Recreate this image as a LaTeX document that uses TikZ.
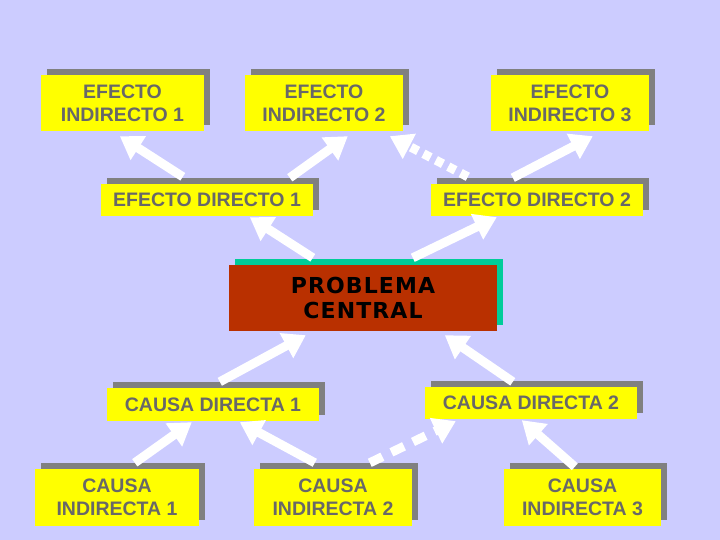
\documentclass[tikz,border=0pt]{standalone}
\usepackage{fontspec}
\setmainfont{Liberation Sans}
\newfontfamily\probfont[LetterSpace=5]{DejaVu Sans}
\usetikzlibrary{arrows.meta,shadows}
\definecolor{fondo}{RGB}{204,204,255}
\definecolor{amarillo}{RGB}{255,255,0}
\definecolor{grisletra}{RGB}{104,104,104}
\definecolor{grissombra}{RGB}{128,128,128}
\definecolor{rojizo}{RGB}{185,48,0}
\definecolor{turquesa}{RGB}{0,204,153}
\begin{document}
\begin{tikzpicture}[x=1pt, y=-1pt,
      caja/.style = {shape=rectangle, fill=amarillo, text=grisletra,
        align=center, inner sep=0pt,
        font=\fontsize{19.5}{23}\selectfont\bfseries,
        general shadow={fill=grissombra, shadow xshift=6pt, shadow yshift=6pt}},
      doble/.style = {caja, minimum height=56pt},
      simple/.style = {caja, minimum height=32pt, minimum width=212pt},
      problema/.style = {shape=rectangle, fill=rojizo, text=black,
        align=center, inner sep=0pt, minimum width=268pt, minimum height=66pt,
        font=\probfont\fontsize{22}{25}\selectfont\bfseries,
        general shadow={fill=turquesa, shadow xshift=6pt, shadow yshift=6pt}},
      flecha/.style = {draw=white, line width=9pt,
        -{Triangle[length=22pt,width=27pt]}}]
      \fill[fondo] (0,0) rectangle (720,540);
      % efectos
      \node[doble, minimum width=163pt] (ei1) at (122.5,103) {EFECTO\\INDIRECTO 1};
      \node[doble, minimum width=158pt] (ei2) at (324,103) {EFECTO\\INDIRECTO 2};
      \node[doble, minimum width=158pt] (ei3) at (570,103) {EFECTO\\INDIRECTO 3};
      \node[simple] (ed1) at (207,200) {EFECTO DIRECTO 1};
      \node[simple] (ed2) at (537,200) {EFECTO DIRECTO 2};
      % problema
      \node[problema] (pc) at (363,298) {PROBLEMA\\CENTRAL};
      % causas
      \node[simple, minimum height=33pt] (cd1) at (213,404.5) {CAUSA DIRECTA 1};
      \node[simple] (cd2) at (531,403) {CAUSA DIRECTA 2};
      \node[doble, minimum width=164pt, minimum height=57pt] (ci1) at (117,497.5) {CAUSA\\INDIRECTA 1};
      \node[doble, minimum width=158pt, minimum height=57pt] (ci2) at (333,497.5) {CAUSA\\INDIRECTA 2};
      \node[doble, minimum width=157pt, minimum height=57pt] (ci3) at (582.5,497.5) {CAUSA\\INDIRECTA 3};
      % flechas de efectos
      \draw[flecha] ([xshift=82pt,yshift=7pt]ed1.north west) -- ([xshift=79pt,yshift=-5pt]ei1.south west);
      \draw[flecha] ([xshift=189pt,yshift=6pt]ed1.north west) -- ([xshift=103pt,yshift=-5pt]ei2.south west);
      \draw[flecha, dash pattern=on 8pt off 6pt] ([xshift=37pt,yshift=7pt]ed2.north west) -- ([xshift=145pt,yshift=-5pt]ei2.south west);
      \draw[flecha] ([xshift=82pt,yshift=6pt]ed2.north west) -- ([xshift=102pt,yshift=-5pt]ei3.south west);
      \draw[flecha] ([xshift=84pt,yshift=7pt]pc.north west) -- ([xshift=149pt,yshift=-1pt]ed1.south west);
      \draw[flecha] ([xshift=184pt,yshift=7pt]pc.north west) -- ([xshift=66pt,yshift=-1pt]ed2.south west);
      % flechas de causas
      \draw[flecha] ([xshift=113pt,yshift=6pt]cd1.north west) -- ([xshift=77pt,yshift=-4pt]pc.south west);
      \draw[flecha] ([xshift=88pt,yshift=5pt]cd2.north west) -- ([xshift=216pt,yshift=-4pt]pc.south west);
      \draw[flecha] ([xshift=100pt,yshift=6pt]ci1.north west) -- ([xshift=85pt,yshift=-1pt]cd1.south west);
      \draw[flecha] ([xshift=61pt,yshift=6pt]ci2.north west) -- ([xshift=133pt,yshift=-1pt]cd1.south west);
      \draw[flecha, dash pattern=on 14pt off 10pt] ([xshift=116pt,yshift=6pt]ci2.north west) -- ([xshift=31pt,yshift=-2pt]cd2.south west);
      \draw[flecha] ([xshift=71pt,yshift=2pt]ci3.north west) -- ([xshift=97pt,yshift=-1pt]cd2.south west);
\end{tikzpicture}
\end{document}
